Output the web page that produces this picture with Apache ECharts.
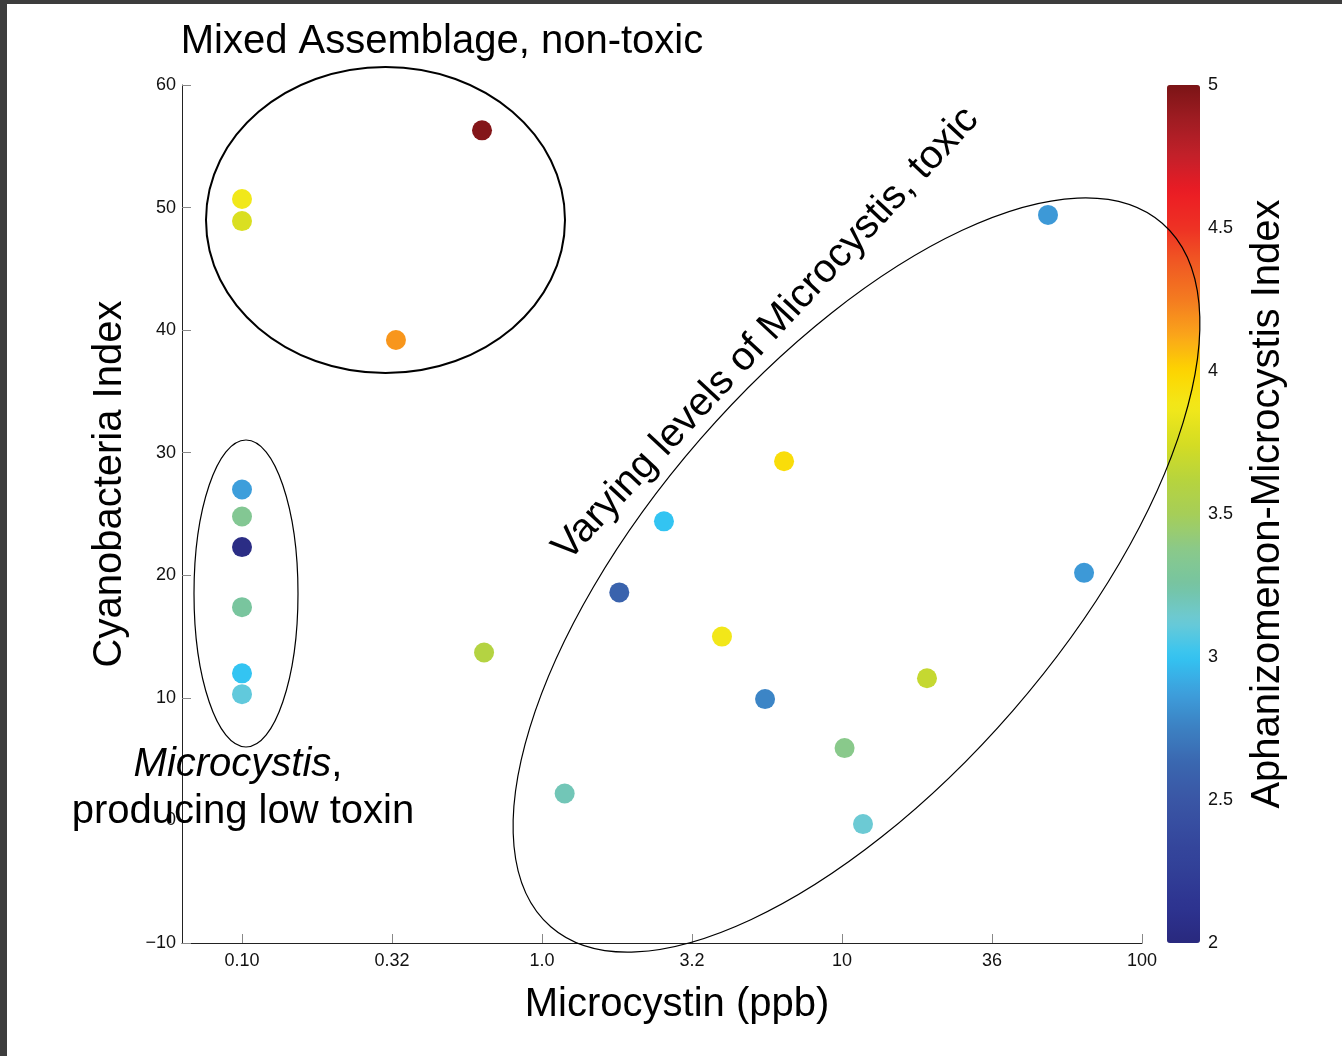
<!DOCTYPE html>
<html>
<head>
<meta charset="utf-8">
<script src="https://cdn.jsdelivr.net/npm/echarts@6/dist/echarts.min.js"></script>
<style>
  html, body { margin: 0; padding: 0; background: #fff; }
  #chart { position: absolute; left: 0; top: 0; width: 1342px; height: 1056px; }
  .frame-top { position: absolute; left: 0; top: 0; width: 1342px; height: 4px; background: #3d3d3d; }
  .frame-left { position: absolute; left: 0; top: 0; width: 7px; height: 1056px; background: #3d3d3d; }
</style>
</head>
<body>
<div id="chart"></div>
<div class="frame-top"></div>
<div class="frame-left"></div>
<script>
// Microcystin (ppb), log axis
const microcystin = [0.631, 0.1, 0.1, 0.326, 0.1, 0.1, 0.1, 0.1, 0.1, 0.1, 0.641,
  1.19, 1.81, 2.55, 3.98, 6.41, 5.54, 10.2, 11.75, 19.2, 48.6, 64.1];
// Cyanobacteria Index
const cyanoIndex = [56.3, 50.7, 48.9, 39.2, 27.0, 24.8, 22.3, 17.4, 12.0, 10.3, 13.7,
  2.2, 18.6, 24.4, 15.0, 29.3, 9.9, 5.9, -0.3, 11.6, 49.4, 20.2];
// Aphanizomenon-Microcystis Index (colour)
const aphanIndex = [4.97, 3.87, 3.77, 4.17, 2.87, 3.33, 2.05, 3.27, 3.0, 3.1, 3.6,
  3.2, 2.6, 3.0, 3.88, 3.95, 2.77, 3.37, 3.13, 3.68, 2.85, 2.85];

const xTickValues = [0.1, 0.3162, 1, 3.162, 10, 31.62, 100];
const xTickLabels = ['0.10', '0.32', '1.0', '3.2', '10', '36', '100'];

// jet-like colormap, 2 -> 5
const colormap = [
  '#29297e', '#2d3390', '#313f97', '#35499e', '#3a56a5', '#3a66af', '#3c80c2',
  '#3d9fdc', '#33c4f2', '#6ccad6', '#76c4a2', '#8ac98a', '#a6ce58', '#b8d43c',
  '#d6dd22', '#f2e81a', '#fdd500', '#faa51a', '#f47b20', '#f05a23', '#ee3124',
  '#ec1c24', '#c4202a', '#a01c22', '#7b1416'
];

const FONT = '"Liberation Sans", Arial, Helvetica, sans-serif';

const chart = echarts.init(document.getElementById('chart'));

const points = microcystin.map((x, i) => [x, cyanoIndex[i], aphanIndex[i]]);

const bigText = (text, x, y, extra) => Object.assign({
  type: 'text',
  x: x,
  y: y,
  z: 20,
  style: {
    text: text,
    fontSize: 40,
    fontFamily: FONT,
    fill: '#000',
    align: 'center',
    verticalAlign: 'middle'
  }
}, extra || {});

chart.setOption({
  animation: false,
  backgroundColor: '#fff',
  textStyle: { fontFamily: FONT },
  grid: [
    { left: 182, top: 85, width: 960, height: 858 },
    { left: 1167, top: 85, width: 33, height: 858 }
  ],
  xAxis: [
    {
      type: 'log',
      logBase: 10,
      min: Math.pow(10, -1.2),
      max: 100,
      axisLine: { onZero: false, lineStyle: { color: '#222', width: 1 } },
      axisTick: {
        inside: true,
        length: 9,
        customValues: xTickValues,
        lineStyle: { color: '#888' }
      },
      axisLabel: {
        customValues: xTickValues,
        fontSize: 18,
        color: '#111',
        margin: 9,
        formatter: (v) => xTickLabels[xTickValues.findIndex(t => Math.abs(Math.log10(t) - Math.log10(v)) < 0.01)]
      },
      splitLine: { show: false },
      minorTick: { show: false }
    },
    { type: 'value', gridIndex: 1, show: false, min: 0, max: 1 }
  ],
  yAxis: [
    {
      type: 'value',
      min: -10,
      max: 60,
      interval: 10,
      axisLine: { show: true, onZero: false, lineStyle: { color: '#222', width: 1 } },
      axisTick: { show: true, inside: true, length: 9, lineStyle: { color: '#888' } },
      axisLabel: {
        fontSize: 18,
        color: '#111',
        margin: 6,
        formatter: (v) => (v < 0 ? '\u2212' + Math.abs(v) : String(v))
      },
      splitLine: { show: false }
    },
    {
      type: 'value',
      gridIndex: 1,
      position: 'right',
      min: 2,
      max: 5,
      interval: 0.5,
      axisLine: { show: false },
      axisTick: { show: false },
      axisLabel: { fontSize: 18, color: '#111', margin: 8 },
      splitLine: { show: false }
    }
  ],
  visualMap: {
    type: 'continuous',
    min: 2,
    max: 5,
    dimension: 2,
    seriesIndex: 0,
    left: 1167,
    top: 85,
    padding: 0,
    itemWidth: 33,
    itemHeight: 858,
    calculable: false,
    hoverLink: false,
    inRange: { color: colormap }
  },
  series: [
    {
      type: 'scatter',
      xAxisIndex: 0,
      yAxisIndex: 0,
      symbolSize: 20,
      data: points,
      itemStyle: { opacity: 1 }
    }
  ],
  graphic: [
    // cluster outlines
    {
      type: 'ellipse', x: 385.5, y: 220, z: 10,
      shape: { cx: 0, cy: 0, rx: 179.5, ry: 153 },
      style: { fill: 'none', stroke: '#000', lineWidth: 2 }
    },
    {
      type: 'ellipse', x: 246, y: 593.5, z: 10,
      shape: { cx: 0, cy: 0, rx: 52, ry: 153.5 },
      style: { fill: 'none', stroke: '#000', lineWidth: 1.2 }
    },
    {
      type: 'ellipse', x: 856.5, y: 575, z: 10,
      rotation: 49 * Math.PI / 180,
      shape: { cx: 0, cy: 0, rx: 466, ry: 207 },
      style: { fill: 'none', stroke: '#000', lineWidth: 1.2 }
    },
    // annotations and axis names
    bigText('Mixed Assemblage, non-toxic', 442, 42),
    bigText('Varying levels of Microcystis, toxic', 766, 334, { rotation: 47 * Math.PI / 180 }),
    {
      type: 'text', x: 238, y: 765, z: 20,
      style: {
        text: '{i|Microcystis},',
        fontSize: 40, fontFamily: FONT, fill: '#000',
        align: 'center', verticalAlign: 'middle',
        rich: { i: { fontStyle: 'italic', fontSize: 40, fontFamily: FONT, fill: '#000' } }
      }
    },
    bigText('producing low toxin', 243, 812),
    bigText('Microcystin (ppb)', 677, 1005),
    bigText('Cyanobacteria Index', 110, 484, { rotation: Math.PI / 2 }),
    bigText('Aphanizomenon-Microcystis Index', 1268, 504, { rotation: Math.PI / 2 })
  ]
});
</script>
</body>
</html>
